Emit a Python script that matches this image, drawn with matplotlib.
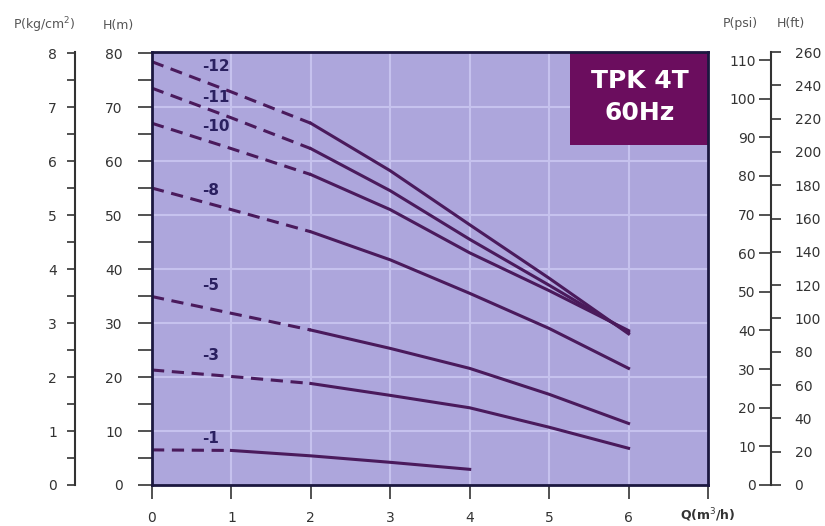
import matplotlib.pyplot as plt
import numpy as np
from matplotlib.patches import Rectangle

# pump curves, H(m) vs Q(m3/h); dashed part runs up to dash_end
q = [0, 1, 2, 3, 4, 5, 6]
curves = {
    '-12': [78.4, 72.8, 67.0, 58.2, 48.2, 38.3, 28.0],
    '-11': [73.5, 68.0, 62.3, 54.5, 45.5, 37.0, 28.3],
    '-10': [67.0, 62.3, 57.5, 51.0, 43.0, 36.0, 28.6],
    '-8': [55.0, 51.0, 46.9, 41.7, 35.5, 29.0, 21.6],
    '-5': [34.9, 31.8, 28.7, 25.3, 21.6, 16.8, 11.4],
    '-3': [21.3, 20.1, 18.8, 16.6, 14.3, 10.7, 6.8],
}
q_small = [0, 1, 2, 3, 4]
h_small = [6.5, 6.4, 5.4, 4.2, 2.9]
dash_end = 2
dash_end_small = 1

label_q = 0.63
label_h = {'-12': 77.6, '-11': 71.7, '-10': 66.4, '-8': 54.6, '-5': 37.0, '-3': 24.0, '-1': 8.6}

line_col = '#4a1a5c'
bg = '#ada6dc'
txt = '#333333'

fig = plt.figure(figsize=(8.25, 5.26), dpi=100)
ax = fig.add_axes([152/825, 41/526, 556/825, 433/526])
ax.set_facecolor(bg)
ax.set_xlim(0, 7)
ax.set_ylim(0, 80.2)

for x in range(1, 7):
    ax.axvline(x, color='#c6c2ee', lw=1.5, zorder=1)
for y in range(10, 80, 10):
    ax.axhline(y, color='#c6c2ee', lw=1.5, zorder=1)


def draw(qs, hs, split):
    qs = np.array(qs)
    hs = np.array(hs)
    d = qs <= split
    s = qs >= split
    ax.plot(qs[d], hs[d], color=line_col, lw=2.2, ls=(0, (4, 2.5)), zorder=3)
    ax.plot(qs[s], hs[s], color=line_col, lw=2.2, zorder=3, solid_joinstyle='round')


for name, h in curves.items():
    draw(q, h, dash_end)
draw(q_small, h_small, dash_end_small)

for name, h in label_h.items():
    ax.text(label_q, h, name, color='#2a2060', fontsize=11, fontweight='bold',
            ha='left', va='center', zorder=4)

# model box, flush with the top right corner
ax.add_patch(Rectangle((418/556, 1 - 93/433), 138/556, 93/433, transform=ax.transAxes,
                       fc='#6b0d5e', ec='none', zorder=5))
ax.text(488/556, 1 - 29/433, 'TPK 4T', transform=ax.transAxes, ha='center', va='center',
        color='white', fontsize=18, fontweight='bold', zorder=6)
ax.text(488/556, 1 - 61/433, '60Hz', transform=ax.transAxes, ha='center', va='center',
        color='white', fontsize=18, fontweight='bold', zorder=6)

for sp in ax.spines.values():
    sp.set_color('#1c1840')
    sp.set_linewidth(2)
    sp.set_zorder(7)

# x axis
ax.set_xticks(range(8))
ax.set_xticklabels(['0', '1', '2', '3', '4', '5', '6', ''])
ax.tick_params(axis='x', direction='out', length=10, width=1.2, pad=9, labelsize=10, colors=txt)
ax.annotate('Q(m$^3$/h)', xy=(7, 0), xycoords='data', xytext=(0, -22), textcoords='offset points',
            ha='center', va='center', fontsize=9, fontweight='bold', color=txt)

# H(m) axis
ax.set_yticks(range(0, 81, 10))
ax.set_yticks(range(5, 80, 10), minor=True)
ax.tick_params(axis='y', which='both', direction='out', length=10, width=1.2, pad=11,
               labelsize=10, colors=txt)

# P(kg/cm2) axis
ax_kg = ax.twinx()
ax_kg.set_ylim(0, 8.02)
ax_kg.spines['left'].set_visible(True)
ax_kg.spines['left'].set_position(('axes', -77/556))
ax_kg.spines['left'].set_linewidth(1.5)
ax_kg.spines['left'].set_color('#333333')
for k in ['right', 'top', 'bottom']:
    ax_kg.spines[k].set_visible(False)
ax_kg.yaxis.set_ticks_position('left')
ax_kg.set_yticks(range(0, 9))
ax_kg.set_yticks(np.arange(0.5, 8, 1), minor=True)
ax_kg.tick_params(axis='y', which='both', direction='out', length=6, width=1.2, pad=7,
                  labelsize=10, colors=txt)

# P(psi) axis
ax_psi = ax.twinx()
ax_psi.set_ylim(0, 112.1)
ax_psi.spines['left'].set_visible(True)
ax_psi.spines['left'].set_position(('axes', 619/556))
ax_psi.spines['left'].set_linewidth(1.5)
ax_psi.spines['left'].set_color('#333333')
for k in ['right', 'top', 'bottom']:
    ax_psi.spines[k].set_visible(False)
ax_psi.yaxis.set_ticks_position('left')
ax_psi.set_yticks(range(0, 111, 10))
ax_psi.tick_params(axis='y', direction='out', length=9, width=1.2, pad=2, labelsize=10, colors=txt)

# H(ft) axis
ax_ft = ax.twinx()
ax_ft.set_ylim(0, 260)
ax_ft.spines['right'].set_position(('axes', 619/556))
for k in ['left', 'right', 'top', 'bottom']:
    ax_ft.spines[k].set_visible(False)
ax_ft.set_yticks(range(0, 261, 20))
ax_ft.tick_params(axis='y', direction='out', length=7, width=1.2, pad=10, labelsize=10, colors=txt)

fig.text(13/825, 1 - 25/526, 'P(kg/cm$^2$)', fontsize=9, color='#555555', va='center')
fig.text(103/825, 1 - 25/526, 'H(m)', fontsize=9, color='#555555', va='center')
fig.text(723/825, 1 - 23/526, 'P(psi)', fontsize=9, color='#555555', va='center')
fig.text(777/825, 1 - 23/526, 'H(ft)', fontsize=9, color='#555555', va='center')

plt.savefig('out.png', dpi=100)
plt.close()
